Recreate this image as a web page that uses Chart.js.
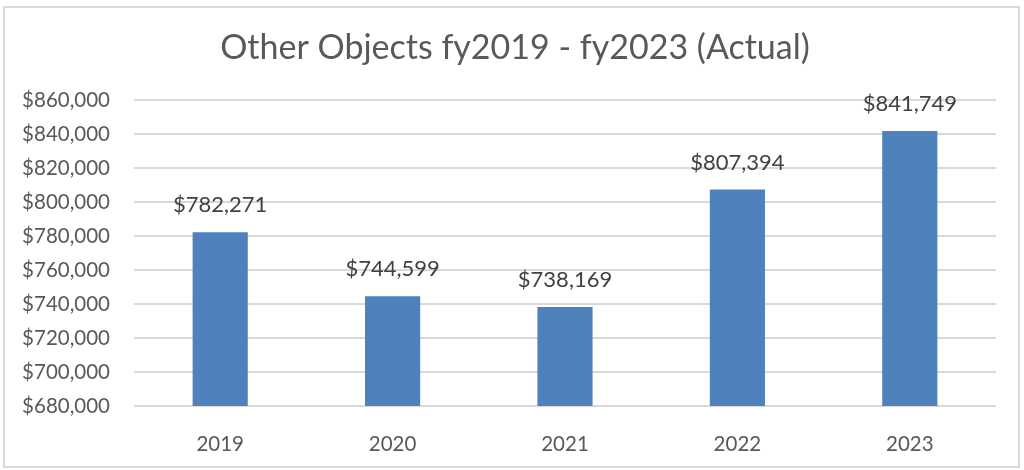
<!DOCTYPE html>
<html lang="en">
<head>
    <meta charset="UTF-8">
    <title>Other Objects fy2019 - fy2023 (Actual)</title>
    <style>
        body {
            margin: 0;
            background-color: #fff;
        }
        canvas {
            display: block;
        }
    </style>
</head>
<body>

<canvas id="myChart" width="1024" height="470"></canvas>

<script src="https://cdn.jsdelivr.net/npm/chart.js@4/dist/chart.umd.min.js"></script>
<script>
const chartTitle = 'Other Objects fy2019 - fy2023 (Actual)';
const years = ['2019', '2020', '2021', '2022', '2023'];
const actuals = [782271, 744599, 738169, 807394, 841749];
const yMin = 680000;
const yMax = 860000;
const yStep = 20000;

const money = v => '$' + Math.round(v).toLocaleString('en-US');

// labels above each bar, placed from the bar elements
const barLabels = {
    id: 'barLabels',
    afterDatasetsDraw(chart) {
        const ctx = chart.ctx;
        const meta = chart.getDatasetMeta(0);
        ctx.save();
        ctx.font = '22px Lato';
        ctx.fillStyle = '#404040';
        ctx.textAlign = 'center';
        ctx.textBaseline = 'middle';
        meta.data.forEach((bar, i) => {
            ctx.fillText(money(actuals[i]), bar.x, bar.y - 27);
        });
        ctx.restore();
    }
};

// frame round the whole chart, and the title centred on the frame
const frame = {
    id: 'frame',
    beforeDraw(chart) {
        const ctx = chart.ctx;
        ctx.save();
        ctx.strokeStyle = '#d9d9d9';
        ctx.lineWidth = 2;
        ctx.strokeRect(4, 7, 1015, 460);
        ctx.font = '34px Lato';
        ctx.fillStyle = '#595959';
        ctx.textAlign = 'center';
        ctx.textBaseline = 'middle';
        ctx.fillText(chartTitle, 515, 48);
        ctx.restore();
    }
};

Chart.defaults.font.family = 'Lato';
Chart.defaults.color = '#595959';

new Chart(document.getElementById('myChart'), {
    type: 'bar',
    data: {
        labels: years,
        datasets: [{
            data: actuals,
            backgroundColor: '#4f81bd',
            categoryPercentage: 1,
            barPercentage: 0.32
        }]
    },
    options: {
        responsive: false,
        animation: false,
        devicePixelRatio: 1,
        layout: {
            padding: {top: 100, right: 28, bottom: 0, left: 0}
        },
        plugins: {
            legend: {display: false},
            tooltip: {enabled: false},
            title: {display: false}
        },
        scales: {
            x: {
                grid: {display: false},
                border: {display: false},
                ticks: {font: {size: 20.5}, padding: 18},
                afterFit(scale) { scale.height = 64; }
            },
            y: {
                min: yMin,
                max: yMax,
                grid: {color: '#d9d9d9', lineWidth: 2, drawTicks: false},
                border: {display: false},
                ticks: {
                    stepSize: yStep,
                    font: {size: 20.5},
                    padding: 24,
                    callback: v => money(v)
                },
                afterFit(scale) { scale.width = 134; }
            }
        }
    },
    plugins: [frame, barLabels]
});
</script>

</body>
</html>
